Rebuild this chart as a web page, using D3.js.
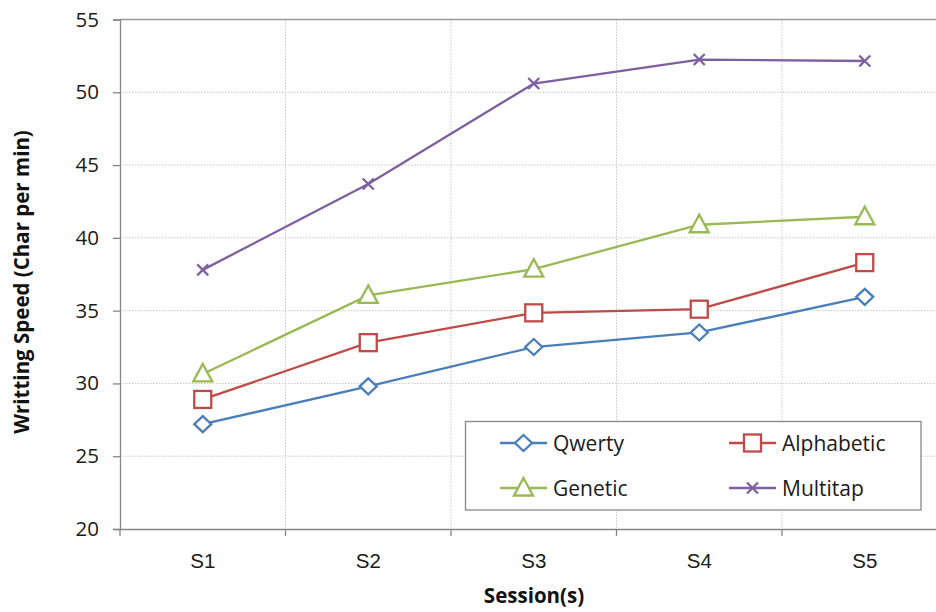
<!DOCTYPE html>
<html><head><meta charset="utf-8">
<script src="https://cdn.jsdelivr.net/npm/d3@7"></script>
<style>
html,body{margin:0;padding:0;background:#fff;}
svg{display:block;font-family:"Open Sans","Noto Sans",sans-serif;}
</style></head>
<body><svg id="c" width="936" height="612"></svg>
<script>
const categories = ["S1","S2","S3","S4","S5"];
const qwerty     = [27.2, 29.8, 32.5, 33.5, 35.95];
const alphabetic = [28.9, 32.8, 34.85, 35.1, 38.3];
const genetic    = [30.65, 36.05, 37.85, 40.9, 41.45];
const multitap   = [37.8, 43.7, 50.6, 52.25, 52.15];
const seriesNames = ["Qwerty","Alphabetic","Genetic","Multitap"];
const yTicks = [20,25,30,35,40,45,50,55];

const colors = ["#4A7EBB","#BE4B48","#98B954","#7D60A0"];
const markers = ["diamond","square","triangle","x"];
const seriesData = [qwerty, alphabetic, genetic, multitap];

const svg = d3.select("#c");
const mLeft = 120, mTop = 19.5, mBottom = 529, mRight = 947.5;
const x = d3.scaleBand().domain(categories).range([mLeft, mRight]).padding(0);
const y = d3.scaleLinear().domain([20,55]).range([mBottom, mTop]);
const cx = c => x(c) + x.bandwidth()/2;

const grid = svg.append("g");
grid.selectAll("line.h").data(yTicks.filter(t => t>20 && t<55)).join("line")
  .attr("x1", mLeft).attr("x2", 936).attr("y1", d=>y(d)).attr("y2", d=>y(d))
  .attr("stroke","#C8C8C8").attr("stroke-width",1).attr("stroke-dasharray","1.5,1.5");
grid.selectAll("line.v").data(categories.slice(1)).join("line")
  .attr("x1", d=>x(d)).attr("x2", d=>x(d)).attr("y1", mTop).attr("y2", mBottom)
  .attr("stroke","#C8C8C8").attr("stroke-width",1).attr("stroke-dasharray","1.5,1.5");
svg.append("line").attr("x1",mLeft).attr("x2",936).attr("y1",y(55)).attr("y2",y(55))
  .attr("stroke","#9A9A9A").attr("stroke-width",1.3);

const yAxis = svg.append("g").attr("transform",`translate(${mLeft},0)`)
  .call(d3.axisLeft(y).tickValues(yTicks).tickSize(7).tickPadding(14));
yAxis.select(".domain").attr("stroke","#868686").attr("stroke-width",1.3);
yAxis.selectAll(".tick line").attr("stroke","#868686").attr("stroke-width",1.3);
yAxis.selectAll(".tick text").attr("font-size",20.5).attr("fill","#1a1a1a")
  .attr("font-family","'Open Sans',sans-serif");

const xAxis = svg.append("g").attr("transform",`translate(0,${mBottom})`)
  .call(d3.axisBottom(x).tickSize(0).tickPadding(24).tickSizeOuter(0));
xAxis.select(".domain").attr("stroke","#868686").attr("stroke-width",1.3);
xAxis.selectAll(".tick text").attr("font-size",20.5).attr("fill","#1a1a1a");
xAxis.selectAll("line.bt").data(categories).join("line").attr("class","bt")
  .attr("x1", d=>x(d)).attr("x2", d=>x(d)).attr("y1",0).attr("y2",7)
  .attr("stroke","#868686").attr("stroke-width",1.3);

svg.append("text").attr("x",534).attr("y",603).attr("text-anchor","middle")
  .attr("font-size",20.5).attr("font-weight","bold").attr("fill","#111").text("Session(s)");
svg.append("text").attr("transform","translate(29,282) rotate(-90)").attr("text-anchor","middle")
  .attr("font-size",20.5).attr("font-weight","bold").attr("fill","#111").text("Writting Speed (Char per min)");

function drawMarker(g, type, color, px, py) {
  if (type === "diamond") {
    g.append("path").attr("d", `M${px},${py-8} L${px+8.5},${py} L${px},${py+8} L${px-8.5},${py} Z`)
      .attr("fill","#fff").attr("stroke",color).attr("stroke-width",2.3);
  } else if (type === "square") {
    g.append("rect").attr("x",px-8.5).attr("y",py-8.5).attr("width",17).attr("height",17)
      .attr("fill","#fff").attr("stroke",color).attr("stroke-width",2.3);
  } else if (type === "triangle") {
    g.append("path").attr("d", `M${px},${py-10} L${px+9.5},${py+7.5} L${px-9.5},${py+7.5} Z`)
      .attr("fill","#fff").attr("stroke",color).attr("stroke-width",2.3);
  } else {
    g.append("path").attr("d", `M${px-5.5},${py-5.5} L${px+5.5},${py+5.5} M${px+5.5},${py-5.5} L${px-5.5},${py+5.5}`)
      .attr("fill","none").attr("stroke",color).attr("stroke-width",2.3);
  }
}

const line = d3.line().x(d=>cx(d.c)).y(d=>y(d.v));
seriesData.forEach((vals, i) => {
  const pts = categories.map((c,j)=>({c, v: vals[j]}));
  const g = svg.append("g");
  g.append("path").datum(pts).attr("d", line).attr("fill","none")
    .attr("stroke", colors[i]).attr("stroke-width",2.3);
  pts.forEach(p => drawMarker(g, markers[i], colors[i], cx(p.c), y(p.v)));
});

const lg = svg.append("g");
lg.append("rect").attr("x",465.5).attr("y",421.5).attr("width",455.5).attr("height",88.5)
  .attr("fill","#fff").attr("stroke","#868686").attr("stroke-width",1.3);
const lpos = [[500,443],[729,443],[500,488],[729,488]];
seriesNames.forEach((n,i)=>{
  const [lx,ly] = lpos[i];
  lg.append("line").attr("x1",lx).attr("x2",lx+47).attr("y1",ly).attr("y2",ly)
    .attr("stroke",colors[i]).attr("stroke-width",2.3);
  drawMarker(lg, markers[i], colors[i], lx+23.5, ly);
  lg.append("text").attr("x",lx+53).attr("y",ly+7.5).attr("font-size",21).attr("fill","#1a1a1a").text(n);
});
</script></body></html>
